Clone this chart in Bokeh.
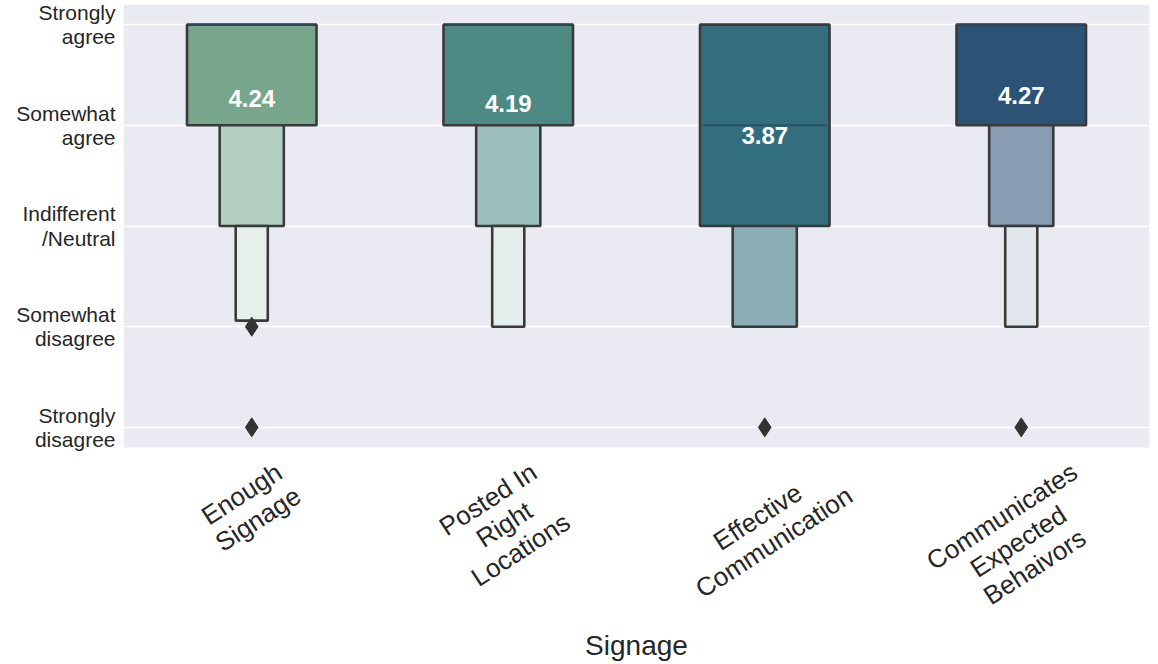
import math
from bokeh.plotting import figure
from bokeh.models import FixedTicker, Range1d, ColumnDataSource
from bokeh.embed import file_html
from bokeh.resources import INLINE
from bokeh.core.properties import value

# ---------------- data ----------------
categories = ["Enough Signage", "Posted In Right Locations",
              "Effective Communication", "Communicates Expected Behaviors"]
tick_labels = ["Enough\nSignage", "Posted In\nRight\nLocations",
               "Effective\nCommunication", "Communicates\nExpected\nBehaivors"]
likert_values = [1, 2, 3, 4, 5]
likert_labels = ["Strongly\ndisagree", "Somewhat\ndisagree", "Indifferent\n/Neutral",
                 "Somewhat\nagree", "Strongly\nagree"]
means = [4.24, 4.19, 3.87, 4.27]
medians = [5, 5, 4, 5]

# letter-value boxes (category index, level, low, high)
box_cat = [0, 0, 0, 1, 1, 1, 2, 2, 3, 3, 3]
box_level = [0, 1, 2, 0, 1, 2, 0, 1, 0, 1, 2]
box_low = [4, 3, 2.06, 4, 3, 2, 3, 2, 4, 3, 2]
box_high = [5, 4, 3, 5, 4, 3, 5, 3, 5, 4, 3]

outlier_cat = [0, 0, 2, 3]
outlier_val = [2, 1, 1, 1]

x_title = "Signage"

# ---------------- styles ----------------
level_colors = [["#78a68d", "#b3cfc1", "#e8f0ec"],
                ["#4e8a84", "#9dbfbd", "#e4eeed"],
                ["#336e7e", "#8badb5", "#dde7ea"],
                ["#2c5275", "#889db2", "#e1e6ed"]]
level_widths = [0.505, 0.25, 0.125]
FONT = "Liberation Sans"
TXT = "#262626"

W, H = 1152, 662
FL, FR, FT = 123, 1149, 4          # frame edges (px)
PLOT_BOT = 447                     # bottom of the grey plotting area (px)
FB = H                             # frame bottom (px) – frame extends under labels
area_lo, area_hi = 0.8, 5.2        # y span of the grey area
ppu = (PLOT_BOT - FT) / (area_hi - area_lo)
y_lo = area_lo - (FB - PLOT_BOT) / ppu
x_lo, x_hi = -0.5, 3.5


def y_at(px):
    return area_hi - (px - FT) / ppu


p = figure(width=W, height=H, output_backend="svg", toolbar_location=None,
           x_range=Range1d(x_lo, x_hi), y_range=Range1d(y_lo, area_hi),
           min_border_left=FL, min_border_right=W - FR,
           min_border_top=FT, min_border_bottom=H - FB)
p.background_fill_color = "white"
p.border_fill_color = "white"
p.outline_line_color = None
p.xgrid.visible = False
p.ygrid.grid_line_color = "white"
p.ygrid.grid_line_width = 1.6
p.ygrid.ticker = FixedTicker(ticks=likert_values)
p.xaxis.visible = False

# grey plotting area (drawn below the grid)
p.quad(left=[x_lo], right=[x_hi], bottom=[area_lo], top=[area_hi],
       fill_color="#EAEAF2", line_color=None, level="image")

ya = p.yaxis[0]
ya.ticker = FixedTicker(ticks=likert_values)
ya.major_label_overrides = {v: lab for v, lab in zip(likert_values, likert_labels)}
ya.axis_line_color = None
ya.major_tick_line_color = None
ya.minor_tick_line_color = None
ya.major_label_standoff = 2
ya.major_label_text_font = FONT
ya.major_label_text_font_size = "21px"
ya.major_label_text_color = TXT
ya.major_label_text_line_height = 1.05

# boxes
src = ColumnDataSource(dict(
    left=[c - level_widths[l] / 2 for c, l in zip(box_cat, box_level)],
    right=[c + level_widths[l] / 2 for c, l in zip(box_cat, box_level)],
    bottom=box_low, top=box_high,
    color=[level_colors[c][l] for c, l in zip(box_cat, box_level)],
))
p.quad(left="left", right="right", bottom="bottom", top="top", source=src,
       fill_color="color", line_color="#3a3a3a", line_width=2.6)

# median lines
p.segment(x0=[i - level_widths[0] / 2 + 0.01 for i in range(len(categories))],
          x1=[i + level_widths[0] / 2 - 0.01 for i in range(len(categories))],
          y0=medians, y1=medians, line_color="#274f5c", line_width=2, line_alpha=0.8)

# outliers
p.scatter(x=outlier_cat, y=outlier_val, marker="diamond", size=19,
          fill_color="#333333", line_color="#333333")

# mean labels
p.text(x=list(range(len(categories))), y=means,
       text=[f"{m:.2f}" for m in means],
       text_font=value(FONT), text_font_style="bold", text_font_size="24px",
       text_color="white", text_align="center", text_baseline="middle", y_offset=-3)

# rotated category labels
lab_px = [506, 524, 529, 541]
lab_dx = [-2, -4, 1, -3]
p.text(x=list(range(len(categories))), y=[y_at(v) for v in lab_px],
       x_offset=lab_dx, text=tick_labels, angle=math.radians(33),
       text_align="center", text_baseline="middle", text_font=value(FONT),
       text_font_size="26px", text_color=TXT, text_line_height=1.0)

# axis title
p.text(x=[(x_lo + x_hi) / 2], y=[y_at(645)], text=[x_title],
       text_align="center", text_baseline="middle", text_font=value(FONT),
       text_font_size="28px", text_color=TXT)

open("out.html", "w").write(file_html(p, INLINE))
